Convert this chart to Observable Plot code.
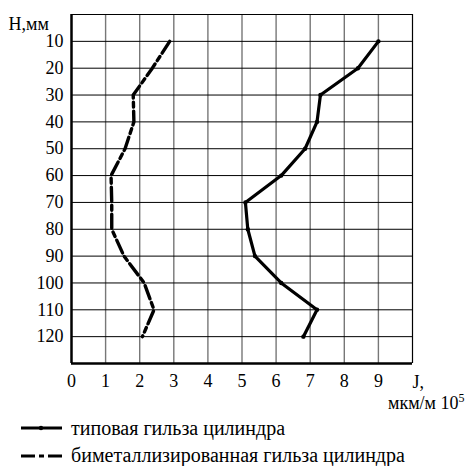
<!DOCTYPE html>
<html><head><meta charset="utf-8">
<script src="https://cdn.jsdelivr.net/npm/d3@7"></script>
<script src="https://cdn.jsdelivr.net/npm/@observablehq/plot@0.6"></script>
<style>body{margin:0;font-family:"Times New Roman",Times,"Liberation Serif",serif;overflow:hidden}</style>
</head>
<body style="font-size:18px">
<div id="wrap" style="position:relative;width:474px;height:410px">
  <div id="c"></div>
  <div id="unit" style="position:absolute;left:388px;top:392px;font-size:18px;line-height:22px;white-space:nowrap"></div>
</div>
<div style="position:relative;height:56px">
  <svg style="position:absolute;left:20px;top:14px" width="43" height="8"><line x1="1" y1="4" x2="42" y2="4" stroke="#000" stroke-width="3"/><circle cx="21" cy="4" r="2.2" fill="#000"/></svg>
  <div id="l1" style="position:absolute;left:71px;top:8px;font-size:20px;line-height:20px;white-space:nowrap"></div>
  <svg style="position:absolute;left:20px;top:42px" width="43" height="8"><line x1="1" y1="4" x2="42" y2="4" stroke="#000" stroke-width="3.2" stroke-dasharray="14,4,5,4"/></svg>
  <div id="l2" style="position:absolute;left:71px;top:35px;font-size:20px;line-height:20px;white-space:nowrap"></div>
</div>
<script>
const heights = [10,20,30,40,50,60,70,80,90,100,110,120];
const typical = [9.0,8.4,7.3,7.2,6.85,6.15,5.1,5.17,5.38,6.15,7.2,6.8];
const bimetal = [2.88,2.37,1.81,1.83,1.57,1.16,1.18,1.18,1.54,2.13,2.42,2.08];
const xTicks = [0,1,2,3,4,5,6,7,8,9];
const yTicks = heights;
const seriesNames = ["типовая гильза цилиндра","биметаллизированная гильза цилиндра"];
const yLabel = "H,мм";
const xLabel1 = "J,";
const xUnit = "мкм/м 10";
const xUnitExp = "5";
const FF = "Times New Roman, Times, Liberation Serif, serif";

const dTyp = heights.map((h,i)=>({h, j: typical[i]}));
const dBim = heights.map((h,i)=>({h, j: bimetal[i]}));

const ch = Plot.plot({
  width: 474, height: 410,
  marginLeft: 71, marginRight: 62, marginTop: 14, marginBottom: 47,
  style: {fontFamily: FF, fontSize: "18px", color: "#000"},
  x: {domain: [0,10], ticks: xTicks, tickSize: 0, tickPadding: 11, label: null},
  y: {domain: [0,130], reverse: true, ticks: yTicks, tickSize: 0, tickPadding: 8, label: null},
  marks: [
    Plot.ruleX(xTicks.filter(d=>d>0), {stroke: "#777", strokeWidth: 1.4}),
    Plot.ruleY(yTicks, {stroke: "#000", strokeWidth: 1}),
    Plot.ruleX([10], {stroke: "#000", strokeWidth: 1.2}),
    Plot.ruleY([0], {stroke: "#000", strokeWidth: 1.2}),
    Plot.ruleX([0], {stroke: "#000", strokeWidth: 2.5}),
    Plot.ruleY([130], {stroke: "#000", strokeWidth: 2.5}),
    Plot.line(dTyp, {x: "j", y: "h", stroke: "#000", strokeWidth: 3.2, strokeLinejoin: "round"}),
    Plot.dot(dTyp, {x: "j", y: "h", r: 2.2, fill: "#000"}),
    Plot.line(dBim, {x: "j", y: "h", stroke: "#000", strokeWidth: 3.4, strokeDasharray: "14,4,5,4"}),
    Plot.text([yLabel], {frameAnchor: "top-left", dx: -63, dy: 3, lineAnchor: "top", textAnchor: "start", fontFamily: FF, fontSize: 18}),
    Plot.text([xLabel1], {frameAnchor: "bottom-right", dx: 0, dy: 24, textAnchor: "start", fontFamily: FF, fontSize: 18})
  ]
});
document.getElementById("c").appendChild(ch);
const u = document.getElementById("unit");
u.appendChild(document.createTextNode(xUnit));
const sup = document.createElement("sup");
sup.style.fontSize = "12px";
sup.style.verticalAlign = "7px";
sup.style.lineHeight = "0";
sup.textContent = xUnitExp;
u.appendChild(sup);
document.getElementById("l1").textContent = seriesNames[0];
document.getElementById("l2").textContent = seriesNames[1];
</script>
</body></html>
